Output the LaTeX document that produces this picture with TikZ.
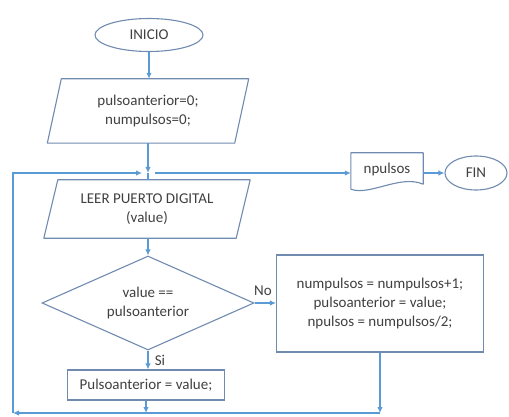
\documentclass[tikz,border=0pt]{standalone}
\usepackage{fontspec}
\setmainfont{Carlito}
\usetikzlibrary{shapes.geometric,arrows.meta,calc}
\definecolor{conn}{RGB}{91,155,213}
\definecolor{edgec}{RGB}{112,138,176}
\definecolor{txt}{RGB}{64,64,64}
\begin{document}
\begin{tikzpicture}[x=1pt,y=-1pt,
  font=\fontsize{15}{19}\selectfont, text=txt,
  shp/.style={draw=edgec, line width=1.1pt, align=center, inner sep=0pt},
  shpline/.style={draw=edgec, line width=1.1pt, line join=round},
  plain/.style={align=center, inner sep=0pt},
  arr/.style={draw=conn, line width=1.3pt, -{Latex[length=6pt,width=5.5pt]}},
  ln/.style={draw=conn, line width=1.3pt}]
\useasboundingbox (0,0) rectangle (509,417);

% nodes
\node[shp, ellipse, minimum width=108, minimum height=33] (ini) at (149,35) {INICIO};
\node[plain, minimum width=187, minimum height=64] (p1) at (148,111) {pulsoanterior=0;\\numpulsos=0;};
\draw[shpline] ($(p1.north west)+(7,0)$) -- ($(p1.north east)+(7,0)$) -- ($(p1.south east)+(-7,0)$) -- ($(p1.south west)+(-7,0)$) -- cycle;

\node[plain, minimum width=192, minimum height=58] (p2) at (147,209) {LEER PUERTO DIGITAL\\(value)};
\draw[shpline] ($(p2.north west)+(7,0)$) -- ($(p2.north east)+(7,0)$) -- ($(p2.south east)+(-7,0)$) -- ($(p2.south west)+(-7,0)$) -- cycle;

\node[shp, diamond, aspect=2.25, minimum width=212, minimum height=94] (dec) at (148,303) {value ==\\pulsoanterior};
\node[shp, rectangle, minimum width=207, minimum height=97] (rb) at (380,303.5) {numpulsos = numpulsos+1;\\pulsoanterior = value;\\npulsos = numpulsos/2;};
\node[shp, rectangle, minimum width=157, minimum height=30] (pa) at (146,385) {Pulsoanterior = value;};

\node[plain, minimum width=72, minimum height=34] (np) at (387,170) {\raisebox{3pt}{npulsos}};
\draw[shpline] ($(np.south west)+(0,2)$) -- (np.north west) -- (np.north east) -- ($(np.south east)+(0,-3)$)
  .. controls ($(np.south east)+(-23,-13)$) and ($(np.south west)+(19,9)$) .. ($(np.south west)+(0,2)$);

\node[shp, ellipse, minimum width=62, minimum height=34] (fin) at (476,173) {FIN};

\node[plain] (no) at (263,291) {No};
\node[plain] (si) at (160,360) {Si};

% connectors
\coordinate (J) at (148,173);
\coordinate (BL) at (13,413);
\coordinate (TL) at (13,173);
\draw[arr] (ini.south) -- (ini.south |- p1.north);
\draw[arr] (p1.south) -- (J);
\draw[ln] (J) -- (J |- p2.north);
\draw[arr] (J |- p2.south) -- (dec.north);
\draw[arr] (dec.east) -- (dec.east -| rb.west);
\draw[arr] (dec.south) -- (dec.south |- pa.north);
\draw[arr] (pa.south) -- (pa.south |- BL);
\draw[arr] (rb.south) -- (rb.south |- BL);
\draw[arr] (rb.south |- BL) -- (BL);
\draw[arr] (BL) -- (TL) -- ($(J)+(-6,0)$);
\draw[arr] ($(J)+(7,0)$) -- (J -| np.west);
\draw[arr] (np.east |- fin) -- (fin.west);
\end{tikzpicture}
\end{document}
